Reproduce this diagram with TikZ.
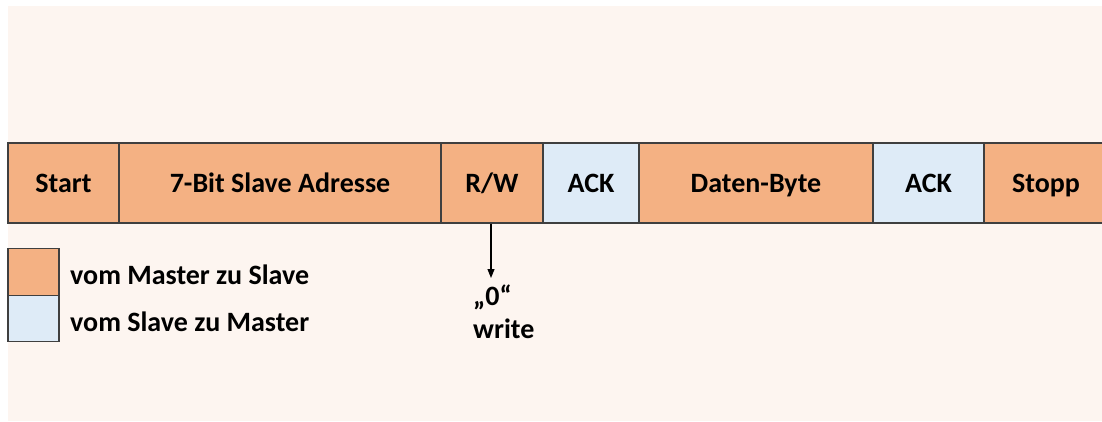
\documentclass[tikz,border=0pt]{standalone}
\usepackage{fontspec}
\setmainfont{Carlito}
\usetikzlibrary{arrows.meta}
\definecolor{bgpink}{HTML}{FDF5F0}
\definecolor{mst}{HTML}{F4B183}
\definecolor{slv}{HTML}{DEEBF7}
\definecolor{edge}{HTML}{3F3F3F}
\tikzset{
  field/.style={draw=edge, line width=1.4pt, minimum height=80pt, inner sep=0pt,
    text height=22pt, text depth=4pt,
    font=\fontsize{28}{30}\selectfont\bfseries, text=black},
  mfield/.style={field, fill=mst},
  sfield/.style={field, fill=slv},
  legbox/.style={draw=edge, line width=1.2pt, minimum width=51pt, minimum height=46.5pt, inner sep=0pt},
  legtext/.style={anchor=west, inner sep=0pt, font=\fontsize{28}{30}\selectfont\bfseries},
  note/.style={anchor=north west, inner sep=0pt, align=left, font=\fontsize{28}{33}\selectfont\bfseries},
}
\begin{document}
\begin{tikzpicture}[x=1pt,y=-1pt]
\useasboundingbox (0,0) rectangle (1102,421);
\fill[white] (0,0) rectangle (1102,421);
\fill[bgpink] (8,6) rectangle (1102,421);
\begin{scope}
\clip (0,0) rectangle (1102,421);
\node[mfield, minimum width=111pt]  (start) at (63.5,183) {Start};
\node[mfield, minimum width=322pt]  (addr)  at (280,183) {7-Bit Slave Adresse};
\node[mfield, minimum width=102pt]  (rw)    at (492,183) {R/W};
\node[sfield, minimum width=96pt]   (ack1)  at (591,183) {ACK};
\node[mfield, minimum width=234pt]  (data)  at (756,183) {Daten-Byte};
\node[sfield, minimum width=111pt]  (ack2)  at (928.5,183) {ACK};
\node[mfield, minimum width=124pt, text width=118pt, align=center] (stop) at (1046,183) {Stopp};
\end{scope}
\node[legbox, fill=mst] (lm) at (33.5,272) {};
\node[legbox, fill=slv] (ls) at (33.5,318.5) {};
\node[legtext] (lmt) at (70,275) {vom Master zu Slave};
\node[legtext] (lst) at (70,322) {vom Slave zu Master};
\coordinate (tip) at (491,278);
\draw[black, line width=1.1pt, -{Triangle[length=9pt,width=7pt]}] (rw.south -| tip) -- (tip);
\node[note] (val) at (473,285) {„0“\\write};
\end{tikzpicture}
\end{document}
